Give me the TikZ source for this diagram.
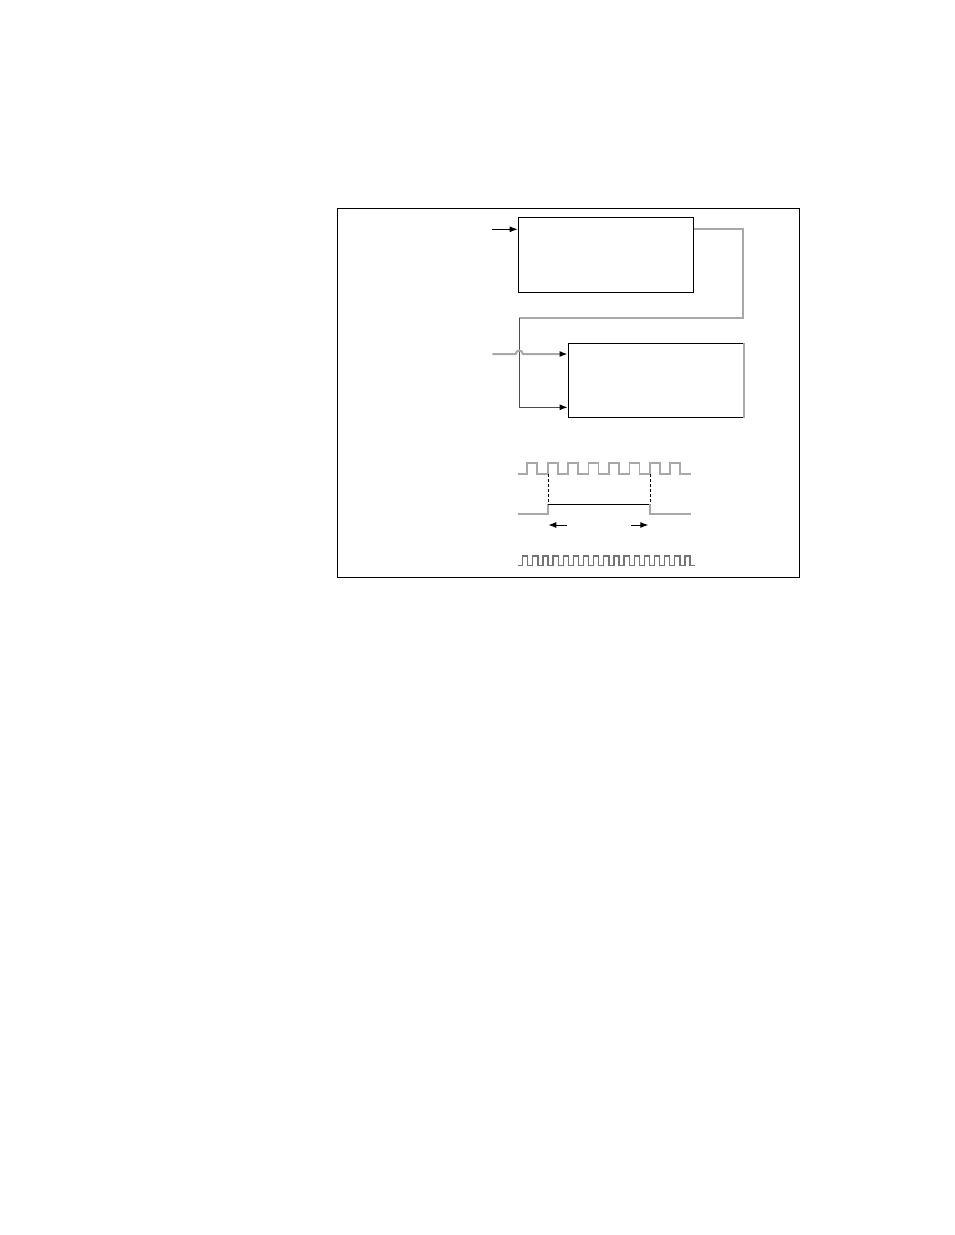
\documentclass[tikz,border=0pt]{standalone}
\usetikzlibrary{positioning, arrows.meta, calc}

\definecolor{wiregray}{RGB}{168,168,168}

\begin{document}
\begin{tikzpicture}[
    x=1pt, y=-1pt,
    >=LaTeX, % Use default LaTeX arrows
    % Styles
    block/.style={ % Functional block
        rectangle,
        draw,
        line width=1.2pt,
        inner sep=0pt
    },
    arrow/.style={
        -{Latex[length=8pt,width=6pt,color=black]},
        line width=1pt
    },
    wire/.style={ % Grey signal line
        draw=wiregray,
        line width=2pt
    },
    wave/.style={ % Grey timing trace
        wiregray,
        line width=1.8pt
    },
    marker/.style={ % Dashed edge markers
        dashed,
        line width=0.8pt,
        dash pattern=on 3pt off 2pt
    }
]
    \useasboundingbox (0,0) rectangle (954,1235);

    % Outer frame
    \draw[line width=1.1pt] (337.3,208.3) rectangle (799.3,577.3);

    % Blocks
    \node[block, minimum width=175pt, minimum height=75pt] (acq) at (605.8,254.8) {};
    \node[block, minimum width=175pt, minimum height=74pt] (gen) at (655.8,380.3) {};
    \draw[wire, line width=1.3pt] (gen.north east) -- (gen.south east);

    % Inputs and feedback path
    \coordinate (inA) at (492.3,229.3);
    \coordinate (inB) at (492.3,354);
    \coordinate (fbR) at (743.3,318.3);
    \coordinate (fbL) at (519.3,318.3);
    \coordinate (fbD) at (519.3,407.3);

    \draw[arrow] (inA) -- (inA -| acq.west);
    \draw[wire] (acq.east |- inA) -- (inA -| fbR) -- (fbR) -- (fbL);
    \draw[arrow, black!70, line width=1.2pt] (fbL) -- (fbD) -- (fbD -| gen.west);
    \draw[wire, arrow, line width=2pt] (inB) -- ($(inB -| fbL)+(-3.5,0)$)
        arc[start angle=180, end angle=360, radius=3.5] -- (inB -| gen.west);

    % Clock trace
    \coordinate (clk) at (517.7,474);
    \draw[wave] (clk) -- ++(9.6,0)
        \foreach \i in {1,...,8}{ -- ++(0,-10.7) -- ++(10,0) -- ++(0,10.7) -- ++(10.43,0) };

    % Gate trace
    \coordinate (gt) at (517.7,514.3);
    \coordinate (gtL) at (548.3,504);
    \coordinate (gtR) at (650,504);
    \draw[wave] (gt) -- (gt -| gtL) -- (gtL);
    \draw[line width=0.9pt] (gtL) -- (gtR);
    \draw[wave] (gtR) -- (gt -| gtR) -- (690.7,514.3);
    \draw[marker] (gtL |- clk) -- (gtL);
    \draw[marker] (gtR |- clk) -- (gtR);

    % Width arrows
    \coordinate (wL) at (566.7,525);
    \coordinate (wR) at (631,525);
    \draw[arrow] (wL) -- (wL -| gtL);
    \draw[arrow] (wR) -- ($(wR -| gtR)+(-1.7,0)$);

    % Fast clock trace
    \coordinate (fclk) at (517.7,565.7);
    \draw[wave, line width=1.3pt, black!55] (fclk) -- ++(5,0)
        \foreach \i in {1,...,17}{ -- ++(0,-9.7) -- ++(5.07,0) -- ++(0,9.7) -- ++(5.07,0) };
\end{tikzpicture}
\end{document}
